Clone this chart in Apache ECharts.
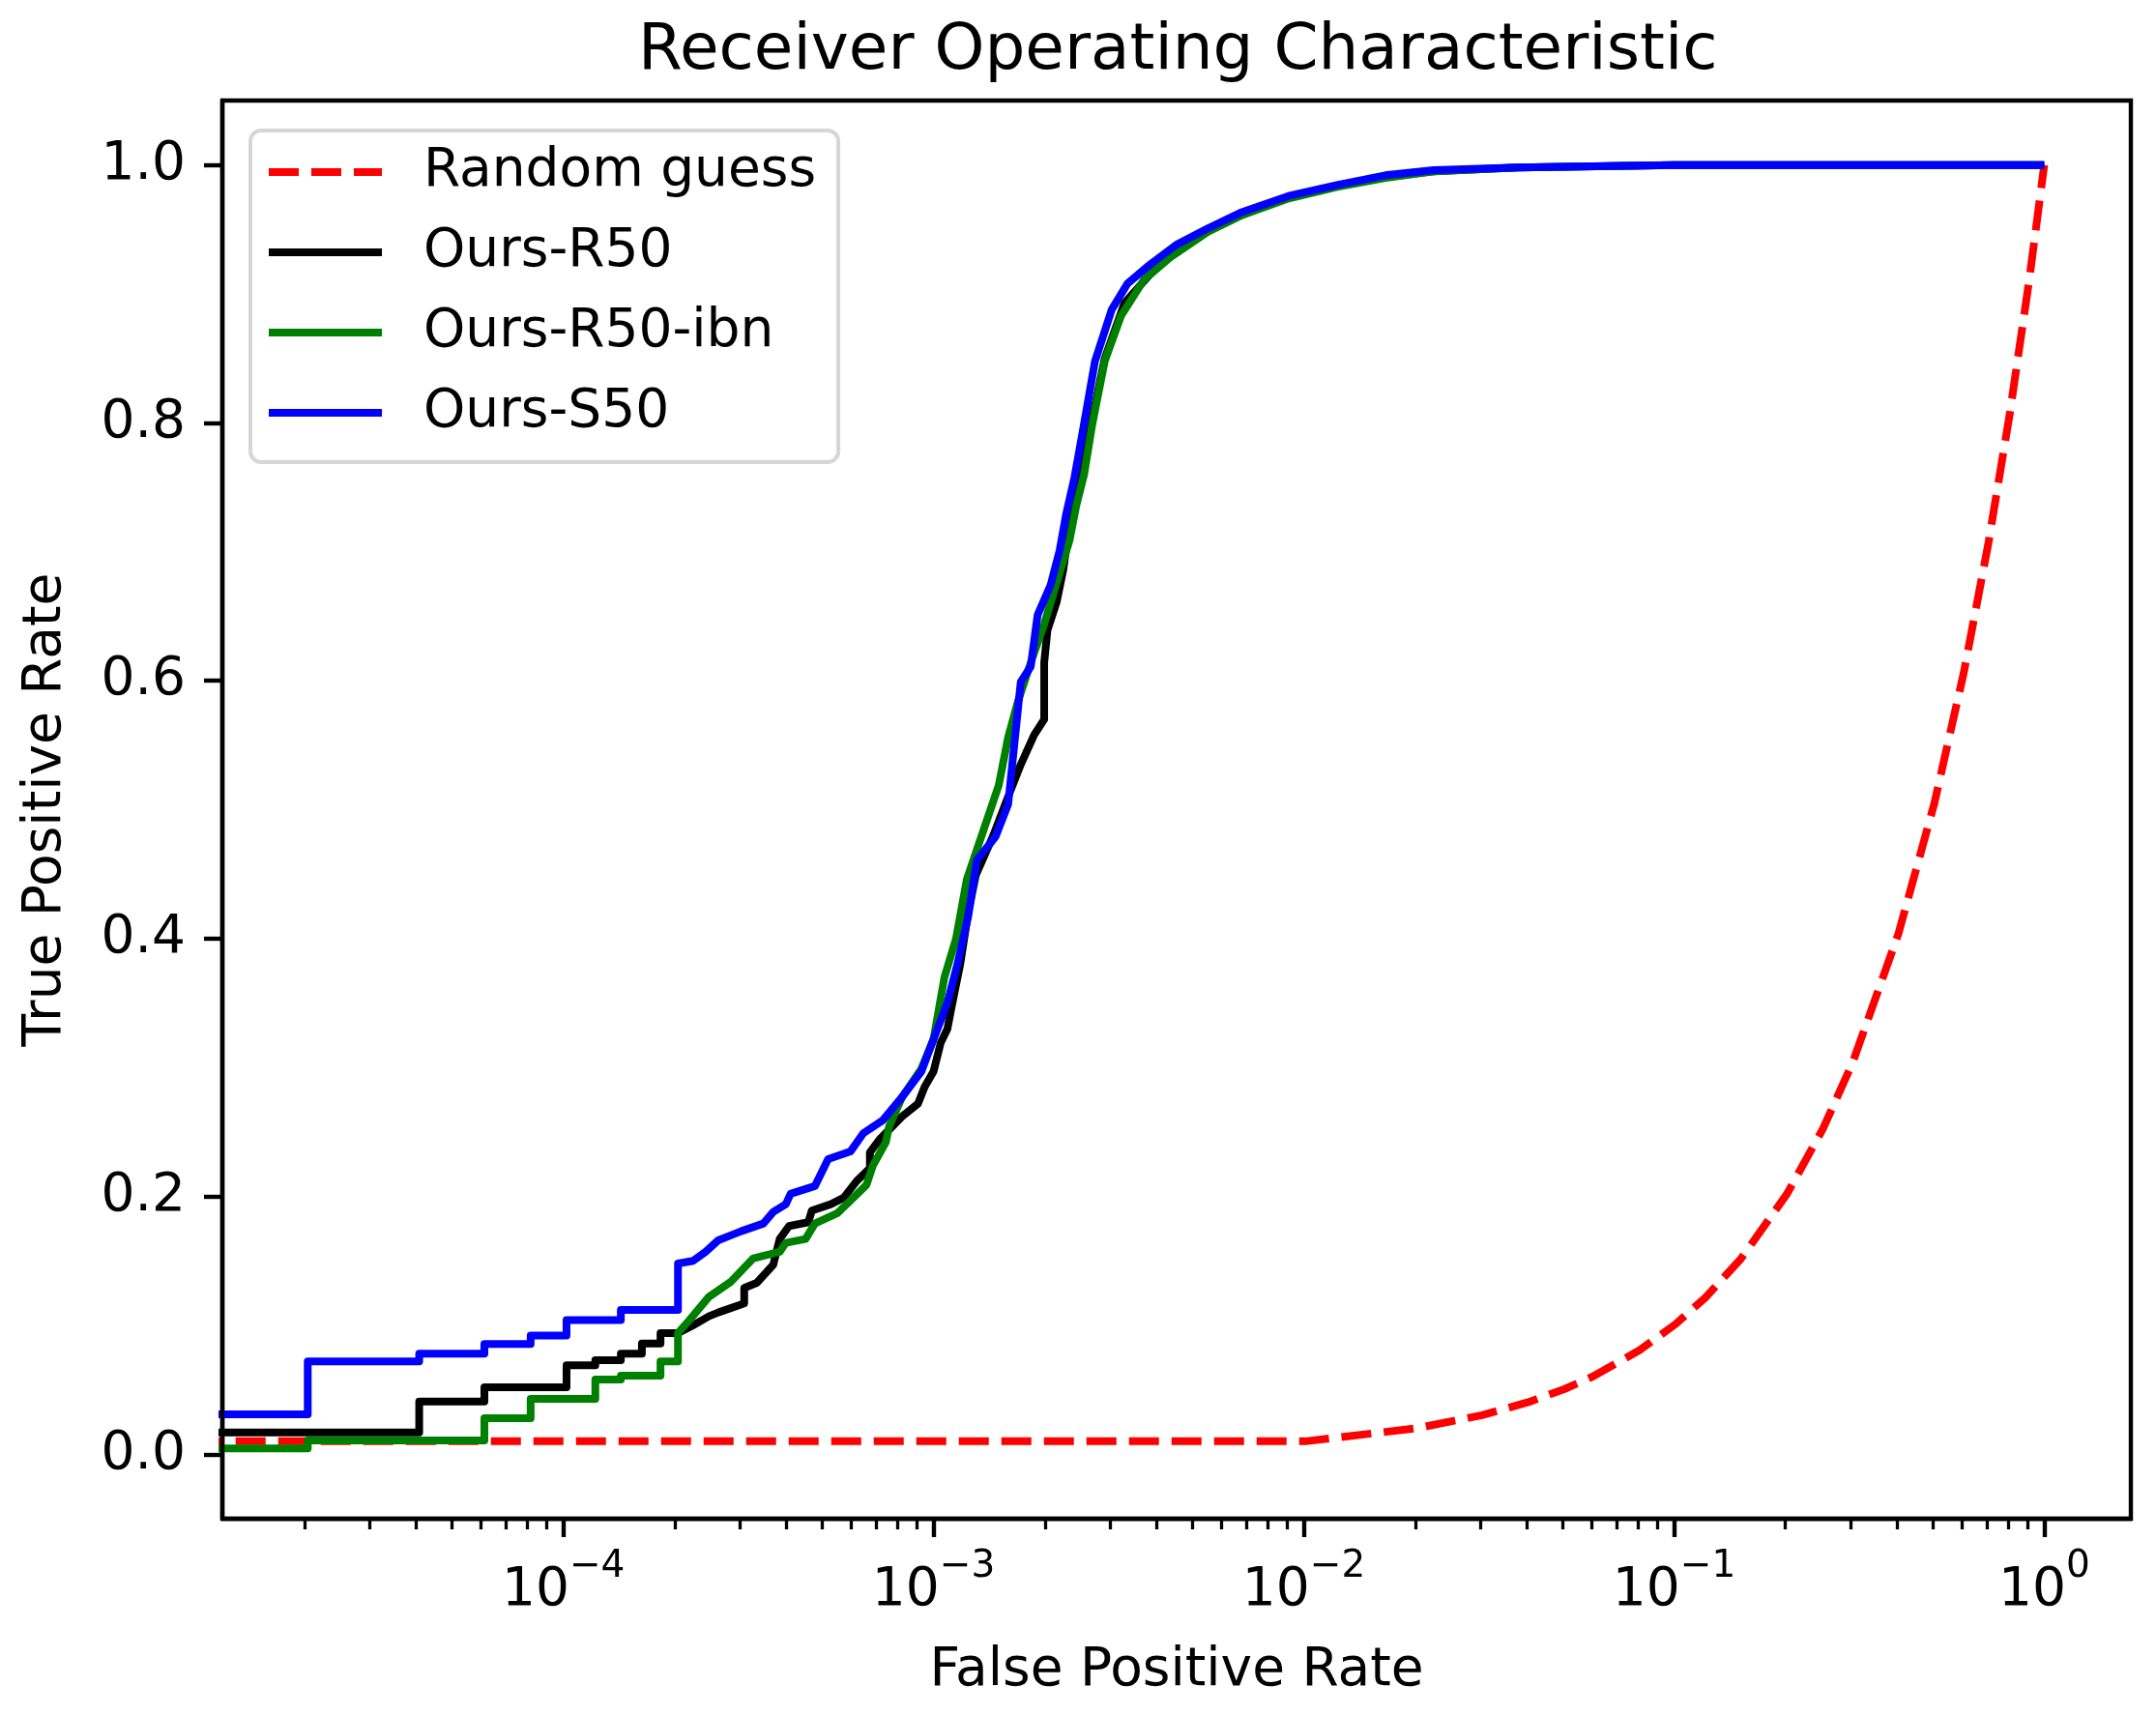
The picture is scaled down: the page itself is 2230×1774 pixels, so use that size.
<!DOCTYPE html>
<html><head><meta charset="utf-8">
<script src="https://cdn.jsdelivr.net/npm/echarts@6/dist/echarts.min.js"></script>
<style>html,body{margin:0;padding:0;background:#fff}#c{width:2230px;height:1774px}</style>
</head><body><div id="c"></div>
<script>
// ---- texts ----
const titleText = 'Receiver Operating Characteristic';
const xAxisName = 'False Positive Rate';
const yAxisName = 'True Positive Rate';
const seriesNames = ['Random guess', 'Ours-R50', 'Ours-R50-ibn', 'Ours-S50'];

// ---- ticks ----
const yTickValues = [0, 0.2, 0.4, 0.6, 0.8, 1.0];
const xMajorTickValues = [1e-4, 1e-3, 1e-2, 1e-1, 1];
const xMinorMultipliers = [2, 3, 4, 5, 6, 7, 8, 9];
const xMinorDecades = [1e-5, 1e-4, 1e-3, 1e-2, 1e-1];

// ---- data: [FPR, TPR] points ----
const randomGuess = [[1e-5,0.0101],[0.0101,0.0101],[0.0202,0.0202],[0.0303,0.0303],[0.0404,0.0404],[0.0505,0.0505],
  [0.0606,0.0606],[0.0808,0.0808],[0.101,0.101],[0.1212,0.1212],[0.1515,0.1515],[0.202,0.202],[0.2525,0.2525],
  [0.303,0.303],[0.404,0.404],[0.505,0.505],[0.606,0.606],[0.707,0.707],[0.808,0.808],[0.909,0.909],[1.0,1.0]];

const oursR50 = [[1e-5,0.017],[4.08e-5,0.017],[4.08e-5,0.041],[6.12e-5,0.041],[6.12e-5,0.052],[1.02e-4,0.052],
  [1.02e-4,0.069],[1.22e-4,0.069],[1.22e-4,0.073],[1.43e-4,0.073],[1.43e-4,0.078],[1.63e-4,0.078],[1.63e-4,0.086],
  [1.83e-4,0.086],[1.83e-4,0.094],[2.04e-4,0.094],[2.24e-4,0.100],[2.47e-4,0.107],[2.62e-4,0.110],[3.08e-4,0.117],
  [3.08e-4,0.129],[3.33e-4,0.133],[3.69e-4,0.147],[3.84e-4,0.167],[4.07e-4,0.177],[4.59e-4,0.180],[4.69e-4,0.189],
  [5.28e-4,0.194],[5.72e-4,0.199],[6.2e-4,0.212],[6.73e-4,0.222],[6.73e-4,0.234],[7.14e-4,0.244],[8.22e-4,0.262],
  [9.08e-4,0.272],[9.46e-4,0.285],[1.0e-3,0.297],[1.045e-3,0.319],[1.09e-3,0.330],[1.11e-3,0.342],[1.18e-3,0.38],
  [1.24e-3,0.42],[1.30e-3,0.449],[1.45e-3,0.48],[1.59e-3,0.51],[1.72e-3,0.535],[1.87e-3,0.558],[1.99e-3,0.570],
  [1.99e-3,0.614],[2.03e-3,0.639],[2.15e-3,0.661],[2.24e-3,0.686],[2.38e-3,0.74],[2.63e-3,0.791],[2.9e-3,0.85],
  [3.28e-3,0.893],[3.92e-3,0.918],[4.6e-3,0.935],[5.6e-3,0.95],[6.8e-3,0.962],[9.1e-3,0.975],[1.23e-2,0.984],
  [1.66e-2,0.991],[2.24e-2,0.995],[3.78e-2,0.998],[0.1,1.0],[1.0,1.0]];

const oursR50ibn = [[1e-5,0.0045],[2.04e-5,0.0045],[2.04e-5,0.0107],[6.12e-5,0.0107],[6.12e-5,0.028],[8.16e-5,0.028],
  [8.16e-5,0.043],[1.22e-4,0.043],[1.22e-4,0.058],[1.43e-4,0.058],[1.43e-4,0.061],[1.83e-4,0.061],[1.83e-4,0.072],
  [2.04e-4,0.072],[2.04e-4,0.094],[2.19e-4,0.104],[2.47e-4,0.122],[2.84e-4,0.134],[3.26e-4,0.152],[3.84e-4,0.157],
  [3.99e-4,0.164],[4.51e-4,0.167],[4.78e-4,0.179],[5.5e-4,0.187],[5.97e-4,0.197],[6.59e-4,0.209],[6.86e-4,0.224],
  [7.43e-4,0.242],[7.58e-4,0.254],[8.22e-4,0.277],[9.27e-4,0.299],[1.0e-3,0.322],[1.07e-3,0.37],[1.15e-3,0.40],
  [1.23e-3,0.446],[1.50e-3,0.519],[1.59e-3,0.556],[1.69e-3,0.584],[1.83e-3,0.614],[1.99e-3,0.644],[2.15e-3,0.676],
  [2.33e-3,0.709],[2.43e-3,0.736],[2.55e-3,0.76],[2.68e-3,0.798],[2.9e-3,0.848],[3.21e-3,0.883],[3.7e-3,0.911],
  [4.34e-3,0.928],[5.5e-3,0.948],[6.8e-3,0.961],[9.1e-3,0.974],[1.23e-2,0.983],[1.66e-2,0.99],[2.24e-2,0.995],
  [3.78e-2,0.998],[0.1,1.0],[1.0,1.0]];

const oursS50 = [[1e-5,0.031],[2.04e-5,0.031],[2.04e-5,0.072],[4.08e-5,0.072],[4.08e-5,0.078],[6.12e-5,0.078],
  [6.12e-5,0.0856],[8.16e-5,0.0856],[8.16e-5,0.092],[1.02e-4,0.092],[1.02e-4,0.104],[1.43e-4,0.104],[1.43e-4,0.112],
  [2.04e-4,0.112],[2.04e-4,0.148],[2.24e-4,0.150],[2.42e-4,0.157],[2.62e-4,0.166],[3.02e-4,0.173],[3.47e-4,0.179],
  [3.69e-4,0.188],[3.99e-4,0.194],[4.11e-4,0.202],[4.78e-4,0.208],[5.19e-4,0.229],[5.97e-4,0.235],[6.46e-4,0.249],
  [7.29e-4,0.259],[8.22e-4,0.277],[9.27e-4,0.297],[1.0e-3,0.322],[1.09e-3,0.35],[1.16e-3,0.38],[1.24e-3,0.417],
  [1.31e-3,0.461],[1.47e-3,0.479],[1.59e-3,0.504],[1.72e-3,0.599],[1.83e-3,0.611],[1.91e-3,0.651],[2.07e-3,0.674],
  [2.19e-3,0.701],[2.28e-3,0.729],[2.40e-3,0.757],[2.52e-3,0.791],[2.73e-3,0.848],[3.03e-3,0.888],[3.34e-3,0.908],
  [3.85e-3,0.923],[4.52e-3,0.938],[5.52e-3,0.951],[6.74e-3,0.963],[9.1e-3,0.976],[1.23e-2,0.9845],[1.66e-2,0.992],
  [2.24e-2,0.996],[3.78e-2,0.998],[0.1,1.0],[1.0,1.0]];

// ---- build ----
const seriesData = [randomGuess, oursR50, oursR50ibn, oursS50];
const seriesColors = ['#ff0000', '#000000', '#008000', '#0000ff'];
const xMinorTickValues = [];
xMinorDecades.forEach(d => xMinorMultipliers.forEach(m => xMinorTickValues.push(+(m * d).toPrecision(3))));

const FONT = 'DejaVu Sans';
const LW = 8;
const xMin = Math.pow(10, -4.921), xMax = Math.pow(10, 0.234);

const chart = echarts.init(document.getElementById('c'), null, {renderer: 'canvas'});
chart.setOption({
  animation: false,
  backgroundColor: '#ffffff',
  title: {
    text: titleText, left: 660, top: 21, padding: 0,
    textStyle: {fontFamily: FONT, fontSize: 66, fontWeight: 'normal', color: '#000'}
  },
  grid: {
    left: 230, right: 26, top: 104, bottom: 203, containLabel: false, outerBoundsMode: 'none',
    show: true, backgroundColor: '#fff', borderColor: '#000', borderWidth: 4.4
  },
  legend: {
    orient: 'vertical', left: 259, top: 135, padding: [13, 23, 21, 15],
    itemWidth: 117, itemHeight: 14, itemGap: 23,
    backgroundColor: 'rgba(255,255,255,0.8)', borderColor: 'rgba(204,204,204,0.8)', borderWidth: 4, borderRadius: 11,
    itemStyle: {opacity: 0, borderWidth: 0},
    lineStyle: {width: LW},
    textStyle: {fontFamily: FONT, fontSize: 55, color: '#000', lineHeight: 60, padding: [0, 0, 0, 38]},
    data: seriesNames
  },
  xAxis: [{
    type: 'log', logBase: 10, min: xMin, max: xMax, position: 'bottom',
    name: xAxisName, nameLocation: 'middle', nameGap: 130,
    nameTextStyle: {fontFamily: FONT, fontSize: 55, color: '#000'},
    axisLine: {show: true, onZero: false, lineStyle: {color: '#000', width: 4.4}},
    splitLine: {show: false}, minorSplitLine: {show: false},
    axisTick: {show: true, inside: false, length: 19, lineStyle: {color: '#000', width: 4.4}, customValues: xMajorTickValues},
    axisLabel: {
      customValues: xMajorTickValues, margin: 30, color: '#000', fontFamily: FONT,
      formatter: v => {
        const e = Math.round(Math.log10(v));
        return '{b|10}{s|' + (e < 0 ? '\u2212' + (-e) : String(e)) + '}';
      },
      rich: {
        b: {fontFamily: FONT, fontSize: 55, color: '#000', verticalAlign: 'bottom', lineHeight: 72},
        s: {fontFamily: FONT, fontSize: 39, color: '#000', verticalAlign: 'top', lineHeight: 44}
      }
    }
  }, {
    type: 'log', logBase: 10, min: xMin, max: xMax, position: 'bottom', gridIndex: 0,
    axisLine: {show: false, onZero: false}, splitLine: {show: false}, axisLabel: {show: false},
    axisTick: {show: true, inside: false, length: 11, lineStyle: {color: '#000', width: 3.3}, customValues: xMinorTickValues}
  }],
  yAxis: {
    type: 'value', min: -0.05, max: 1.05, z: 10,
    name: yAxisName, nameLocation: 'middle', nameGap: 155,
    nameTextStyle: {fontFamily: FONT, fontSize: 55, color: '#000'},
    axisLine: {show: true, onZero: false, lineStyle: {color: '#000', width: 4.4}},
    splitLine: {show: false},
    axisTick: {show: true, inside: false, length: 19, lineStyle: {color: '#000', width: 4.4}, customValues: yTickValues},
    axisLabel: {customValues: yTickValues, margin: 38, color: '#000', fontFamily: FONT, fontSize: 55,
      formatter: v => v.toFixed(1)}
  },
  series: seriesNames.map((name, i) => ({
    name: name, type: 'line', xAxisIndex: 0, yAxisIndex: 0,
    data: seriesData[i], symbol: 'none', showSymbol: false, smooth: false, clip: true,
    color: seriesColors[i],
    lineStyle: {color: seriesColors[i], width: LW, type: i === 0 ? [31, 13] : 'solid', cap: 'butt', join: 'round'},
    emphasis: {disabled: true}
  }))
});
</script></body></html>
